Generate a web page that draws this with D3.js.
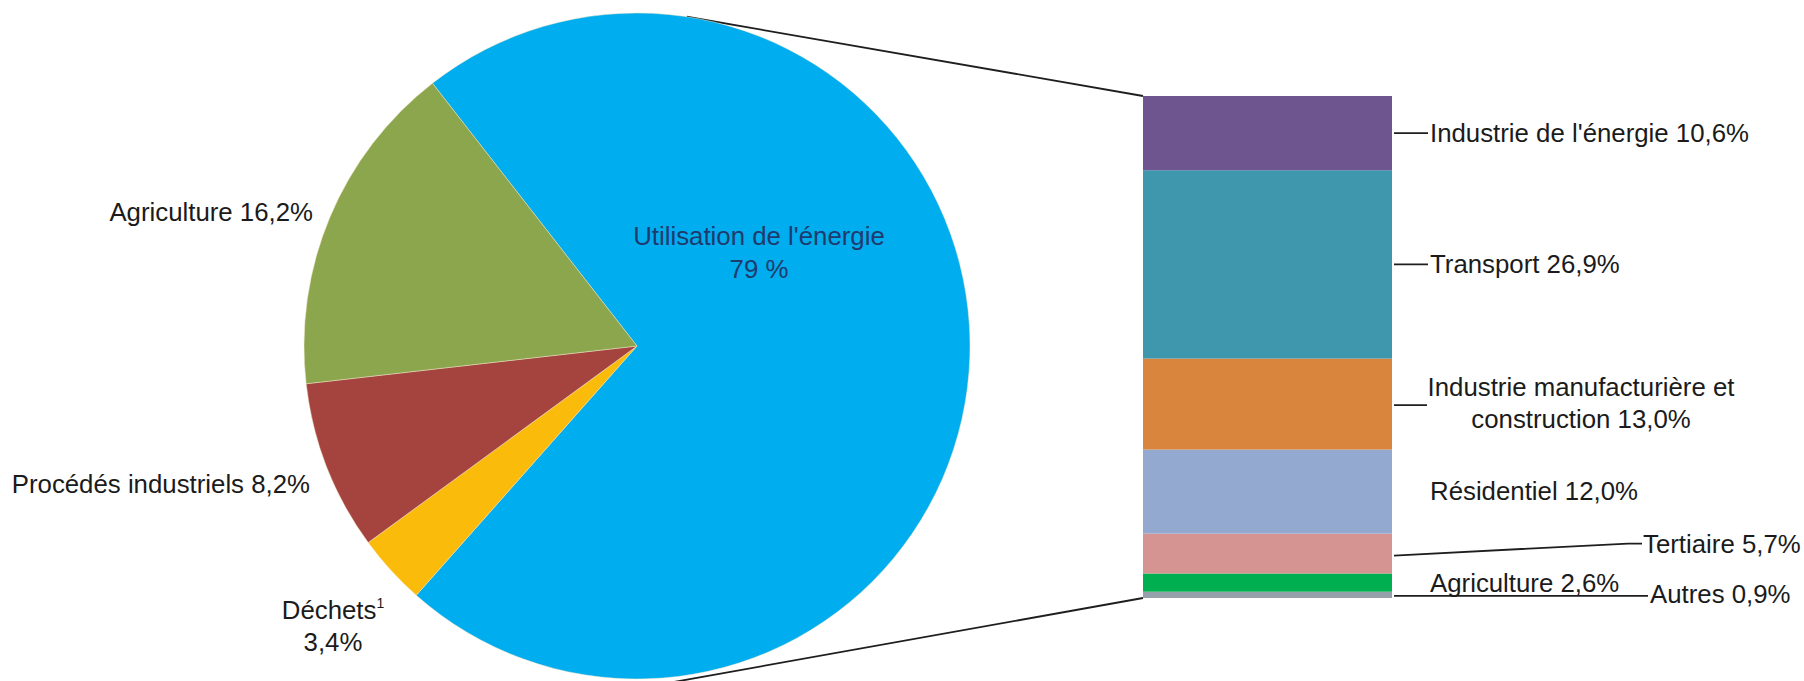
<!DOCTYPE html>
<html>
<head>
<meta charset="utf-8">
<script src="https://cdn.jsdelivr.net/npm/d3@7"></script>
<style>
  html, body { margin: 0; padding: 0; background: #ffffff; }
  svg { display: block; }
  text { font-family: "Liberation Sans", Arial, sans-serif; }
</style>
</head>
<body>
<svg id="chart" width="1804" height="681"></svg>
<script>
// ---------- DATA ----------
// Secondary bar: breakdown of "Utilisation de l'énergie" (bottom to top)
const barCategories = ["Autres", "Agriculture", "Tertiaire", "Résidentiel",
  "Industrie manufacturière et construction", "Transport", "Industrie de l'énergie"];
const barValues = [0.9, 2.6, 5.7, 12.0, 13.0, 26.9, 10.6];
const barLabels = ["Autres 0,9%", "Agriculture 2,6%", "Tertiaire 5,7%", "Résidentiel 12,0%",
  "Industrie manufacturière et|construction 13,0%", "Transport 26,9%", "Industrie de l'énergie 10,6%"];
const barColors = ["#97a1ac", "#00b050", "#d59392", "#93a9d0", "#d9853d", "#3f97ae", "#6f558f"];

// Main pie (clockwise from the energy slice)
const pieCategories = ["Utilisation de l'énergie", "Déchets", "Procédés industriels", "Agriculture"];
const pieValues = [d3.sum(barValues), 3.4, 8.2, 16.2];
const pieLabels = ["79 %", "3,4%", "8,2%", "16,2%"];
const pieColors = ["#00adee", "#fbbb0a", "#a5443f", "#8ba64c"];

// ---------- LAYOUT ----------
const svg = d3.select("#chart");
const cx = 637, cy = 346, R = 333;
const startA = -37.9 * Math.PI / 180;

const barX = d3.scaleBand().domain(["energie"]).range([1143, 1392]).padding(0);
const barY = d3.scaleLinear().domain([0, d3.sum(barValues)]).range([598, 96]);

// stacked positions
let acc = 0;
const stackData = barValues.map((v, i) => {
  const d = { i, v, y0: acc, y1: acc + v, cat: barCategories[i], label: barLabels[i], color: barColors[i] };
  acc += v;
  return d;
});

// ---------- CONNECTOR LINES (behind pie) ----------
const topRimAngle = 8.6 * Math.PI / 180;
const topRim = [cx + R * Math.sin(topRimAngle), cy - R * Math.cos(topRimAngle)];
const barLeft = barX("energie");
const barTopY = barY(d3.sum(barValues));
const barBotY = barY(0);
const connectors = [
  [[barLeft, barTopY], topRim],
  [[barLeft, barBotY], [600, barBotY + (barLeft - 600) * 0.179]]
];
svg.append("g").selectAll("line").data(connectors).join("line")
  .attr("x1", d => d[0][0]).attr("y1", d => d[0][1])
  .attr("x2", d => d[1][0]).attr("y2", d => d[1][1])
  .attr("stroke", "#1e1e1e").attr("stroke-width", 1.8);

// ---------- PIE ----------
const pie = d3.pie().sort(null).value(d => d).startAngle(startA).endAngle(startA + 2 * Math.PI);
const arcs = pie(pieValues);
const arc = d3.arc().innerRadius(0).outerRadius(R);
const gPie = svg.append("g").attr("transform", `translate(${cx},${cy})`);
gPie.selectAll("path").data(arcs).join("path")
  .attr("d", arc)
  .attr("fill", (d, i) => pieColors[i])
  .attr("stroke", "#f3e6c8").attr("stroke-width", 0.8).attr("stroke-opacity", 0.6);

// pie labels
const fs = 25.8;
const txt = "#1b1b1b";
// energy (inside)
svg.append("text").attr("x", 759).attr("y", 245).attr("text-anchor", "middle")
  .attr("font-size", fs).attr("fill", "#1f3a6d").text(pieCategories[0]);
svg.append("text").attr("x", 759).attr("y", 278).attr("text-anchor", "middle")
  .attr("font-size", fs).attr("fill", "#1f3a6d").text(pieLabels[0]);
// agriculture
svg.append("text").attr("x", 313).attr("y", 221).attr("text-anchor", "end")
  .attr("font-size", fs).attr("fill", txt).text(pieCategories[3] + " " + pieLabels[3]);
// procédés
svg.append("text").attr("x", 310).attr("y", 493).attr("text-anchor", "end")
  .attr("font-size", fs).attr("fill", txt).text(pieCategories[2] + " " + pieLabels[2]);
// déchets
const dech = svg.append("text").attr("x", 333).attr("y", 619).attr("text-anchor", "middle")
  .attr("font-size", fs).attr("fill", txt);
dech.append("tspan").text(pieCategories[1]);
dech.append("tspan").attr("font-size", 14).attr("dy", -11).text("1");
svg.append("text").attr("x", 333).attr("y", 651).attr("text-anchor", "middle")
  .attr("font-size", fs).attr("fill", txt).text(pieLabels[1]);

// ---------- BAR ----------
svg.append("g").selectAll("rect").data(stackData).join("rect")
  .attr("x", barX("energie"))
  .attr("width", barX.bandwidth())
  .attr("y", d => barY(d.y1))
  .attr("height", d => barY(d.y0) - barY(d.y1))
  .attr("fill", d => d.color);

// bar labels
const barRight = barX("energie") + barX.bandwidth();
const mid = d => (barY(d.y0) + barY(d.y1)) / 2;
const lab = svg.append("g").attr("font-size", fs).attr("fill", txt);
const lead = svg.append("g").attr("stroke", "#1e1e1e").attr("stroke-width", 1.8).attr("fill", "none");

stackData.forEach(d => {
  const m = mid(d);
  if (d.cat === "Industrie de l'énergie" || d.cat === "Transport") {
    lead.append("line").attr("x1", barRight + 2).attr("x2", barRight + 36).attr("y1", m).attr("y2", m);
    lab.append("text").attr("x", barRight + 38).attr("y", m + 8.5).text(d.label);
  } else if (d.cat.startsWith("Industrie manufacturière")) {
    lead.append("line").attr("x1", barRight + 2).attr("x2", barRight + 35).attr("y1", m + 1).attr("y2", m + 1);
    const parts = d.label.split("|");
    lab.append("text").attr("x", 1581).attr("y", m - 8).attr("text-anchor", "middle").text(parts[0]);
    lab.append("text").attr("x", 1581).attr("y", m + 24).attr("text-anchor", "middle").text(parts[1]);
  } else if (d.cat === "Résidentiel") {
    lab.append("text").attr("x", barRight + 38).attr("y", m + 8.5).text(d.label);
  } else if (d.cat === "Tertiaire") {
    lead.append("polyline").attr("points",
      `${barRight + 2},${m + 2} ${1628},${m - 10} ${1642},${m - 10}`);
    lab.append("text").attr("x", 1643).attr("y", m - 1).text(d.label);
  } else if (d.cat === "Agriculture") {
    lab.append("text").attr("x", barRight + 38).attr("y", m + 9).text(d.label);
  } else if (d.cat === "Autres") {
    lead.append("line").attr("x1", barRight + 2).attr("x2", 1648).attr("y1", m + 1).attr("y2", m + 1);
    lab.append("text").attr("x", 1650).attr("y", m + 8.5).text(d.label);
  }
});
</script>
</body>
</html>
